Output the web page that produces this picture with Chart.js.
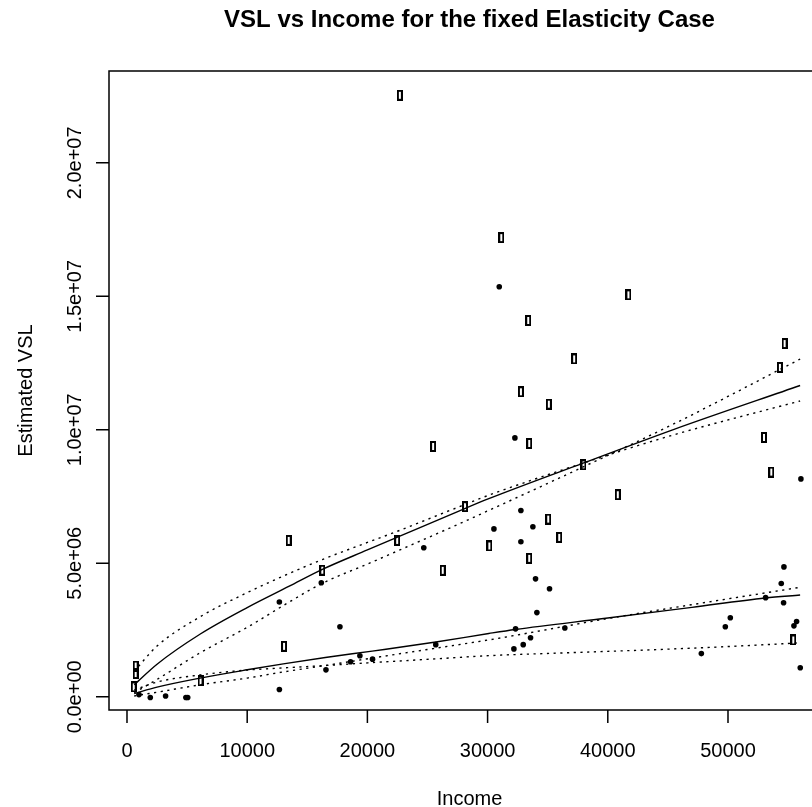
<!DOCTYPE html>
<html>
<head>
<meta charset="utf-8">
<script src="https://cdn.jsdelivr.net/npm/chart.js@4.4.1/dist/chart.umd.min.js"></script>
<style>
html,body{margin:0;padding:0;overflow:hidden;background:#fff;}
canvas{display:block;}
</style>
</head>
<body>
<canvas id="c" width="886" height="807"></canvas>
<script>
// ---- data ----
const titleText = 'VSL vs Income for the fixed Elasticity Case';
const xTitle = 'Income';
const yTitle = 'Estimated VSL';
const xTicks = [0, 10000, 20000, 30000, 40000, 50000];
const xTickLabels = ['0', '10000', '20000', '30000', '40000', '50000'];
const yTicks = [0, 5e6, 1e7, 1.5e7, 2e7];
const yTickLabels = ['0.0e+00', '5.0e+06', '1.0e+07', '1.5e+07', '2.0e+07'];

// open rectangles
const squareIncome = [22700, 25465, 28123, 22476, 13452, 16248, 26269, 30144, 13065, 6117, 720, 720, 560,
  31136, 41717, 33379, 54708, 37202, 54321, 32770, 35097, 52991, 33463, 37978, 53600, 40831, 35041, 35956, 33463, 55429];
const squareVSL = [22.53e6, 9.376e6, 7.12e6, 5.856e6, 5.856e6, 4.74e6, 4.736e6, 5.648e6, 1.888e6, 0.592e6, 1.15e6, 0.87e6, 0.37e6,
  17.2e6, 15.056e6, 14.096e6, 13.232e6, 12.656e6, 12.336e6, 11.424e6, 10.96e6, 9.712e6, 9.488e6, 8.688e6, 8.416e6, 7.568e6, 6.656e6, 5.968e6, 5.184e6, 2.128e6];

// filled dots
const dotIncome = [996, 1938, 3211, 4900, 5050, 12677, 12677, 16165, 17715, 16553, 18601, 19376, 20428, 24691, 25687,
  30970, 32271, 56066, 32770, 30526, 33767, 32770, 33989, 35152, 34100, 32327, 36426, 33573, 32964, 32188,
  47783, 50193, 49778, 54653, 54431, 53130, 54625, 55706, 55485, 56011];
const dotVSL = [0.08e6, -0.03e6, 0.03e6, -0.03e6, -0.03e6, 0.27e6, 3.552e6, 4.272e6, 2.624e6, 1.008e6, 1.312e6, 1.536e6, 1.408e6, 5.584e6, 1.952e6,
  15.36e6, 9.696e6, 8.16e6, 6.976e6, 6.288e6, 6.368e6, 5.808e6, 4.416e6, 4.048e6, 3.152e6, 2.544e6, 2.576e6, 2.208e6, 1.952e6, 1.792e6,
  1.616e6, 2.96e6, 2.624e6, 4.864e6, 4.24e6, 3.712e6, 3.52e6, 2.816e6, 2.656e6, 1.088e6];

// fitted curve for rectangles and its dotted bounds
const upperIncome = [600, 2500, 6100, 10000, 13500, 16250, 20000, 22500, 28100, 30100, 38000, 45400, 56000];
const upperFit   = [0.45e6, 1.22e6, 2.35e6, 3.34e6, 4.14e6, 4.77e6, 5.50e6, 5.98e6, 7.05e6, 7.42e6, 8.76e6, 10.00e6, 11.66e6];
const upperBandA = [0.95e6, 1.90e6, 3.00e6, 3.90e6, 4.62e6, 5.14e6, 5.78e6, 6.20e6, 7.20e6, 7.55e6, 8.76e6, 9.80e6, 11.08e6];
const upperBandB = [0.15e6, 0.65e6, 1.65e6, 2.60e6, 3.55e6, 4.25e6, 4.97e6, 5.46e6, 6.57e6, 6.98e6, 8.62e6, 10.20e6, 12.65e6];

// fitted curve for dots and its dotted bounds
const lowerIncome = [600, 2500, 6100, 10000, 13000, 16500, 20400, 25700, 30100, 32300, 40000, 47000, 53100, 56000];
const lowerFit   = [0.12e6, 0.36e6, 0.70e6, 1.01e6, 1.23e6, 1.47e6, 1.71e6, 2.05e6, 2.37e6, 2.52e6, 2.95e6, 3.35e6, 3.70e6, 3.81e6];
const lowerBandA = [0.03e6, 0.17e6, 0.45e6, 0.70e6, 0.93e6, 1.17e6, 1.45e6, 1.82e6, 2.13e6, 2.30e6, 2.93e6, 3.45e6, 3.89e6, 4.10e6];
const lowerBandB = [0.25e6, 0.55e6, 0.82e6, 1.00e6, 1.08e6, 1.17e6, 1.28e6, 1.42e6, 1.54e6, 1.58e6, 1.70e6, 1.82e6, 1.95e6, 2.02e6];

// ---- build ----
const pts = (xs, ys) => xs.map((v, i) => ({x: v, y: ys[i]}));

const sq = document.createElement('canvas');
sq.width = 6; sq.height = 11;
(function(){ const g = sq.getContext('2d'); g.strokeStyle = '#000'; g.lineWidth = 2; g.strokeRect(1, 1, 4, 9); })();

const FONT = '"Liberation Sans", Arial, Helvetica, sans-serif';
const DOT = [2.2, 4.5];

function lineDs(xs, ys, dashed) {
  return {
    type: 'line', data: pts(xs, ys), showLine: true, pointRadius: 0, borderColor: '#000',
    borderWidth: 1.4, borderDash: dashed ? DOT : [], cubicInterpolationMode: 'monotone', fill: false
  };
}

const rAxes = {
  id: 'rAxes',
  afterDraw(chart) {
    const {ctx, chartArea: a, scales: {x, y}} = chart;
    ctx.save();
    ctx.strokeStyle = '#000';
    ctx.lineWidth = 1.5;
    ctx.strokeRect(a.left, a.top, a.right - a.left, a.bottom - a.top);
    ctx.fillStyle = '#000';
    ctx.font = '20px ' + FONT;
    ctx.beginPath();
    xTicks.forEach(v => { const px = x.getPixelForValue(v); ctx.moveTo(px, a.bottom); ctx.lineTo(px, a.bottom + 13); });
    yTicks.forEach(v => { const py = y.getPixelForValue(v); ctx.moveTo(a.left, py); ctx.lineTo(a.left - 13, py); });
    ctx.stroke();
    ctx.textAlign = 'center';
    ctx.textBaseline = 'alphabetic';
    xTicks.forEach((v, i) => ctx.fillText(xTickLabels[i], x.getPixelForValue(v), a.bottom + 47));
    yTicks.forEach((v, i) => {
      ctx.save();
      ctx.translate(a.left - 28.3, y.getPixelForValue(v));
      ctx.rotate(-Math.PI / 2);
      ctx.fillText(yTickLabels[i], 0, 0);
      ctx.restore();
    });
    ctx.fillText(xTitle, (a.left + a.right) / 2, a.bottom + 95);
    ctx.save();
    ctx.translate(a.left - 77, (a.top + a.bottom) / 2);
    ctx.rotate(-Math.PI / 2);
    ctx.fillText(yTitle, 0, 0);
    ctx.restore();
    ctx.restore();
  }
};

new Chart(document.getElementById('c'), {
  type: 'scatter',
  data: {
    datasets: [
      lineDs(upperIncome, upperFit, false),
      lineDs(upperIncome, upperBandA, true),
      lineDs(upperIncome, upperBandB, true),
      lineDs(lowerIncome, lowerFit, false),
      lineDs(lowerIncome, lowerBandA, true),
      lineDs(lowerIncome, lowerBandB, true),
      { data: pts(squareIncome, squareVSL), pointStyle: sq, pointRadius: 5, showLine: false },
      { data: pts(dotIncome, dotVSL), pointStyle: 'circle', pointRadius: 2.8, pointBackgroundColor: '#000', pointBorderWidth: 0, showLine: false }
    ]
  },
  options: {
    responsive: false,
    animation: false,
    devicePixelRatio: 1,
    layout: { padding: { left: 109, right: 56, top: 0, bottom: 97 } },
    scales: {
      x: { type: 'linear', display: false, min: -1497, max: 58486 },
      y: { type: 'linear', display: false, min: -0.496e6, max: 23.44e6 }
    },
    plugins: {
      legend: { display: false },
      tooltip: { enabled: false },
      title: {
        display: true, text: titleText, color: '#000',
        font: { family: FONT, size: 24, weight: 'bold', lineHeight: 1.2 },
        padding: { top: 6, bottom: 36.2 }
      }
    }
  },
  plugins: [rAxes]
});
</script>
</body>
</html>
